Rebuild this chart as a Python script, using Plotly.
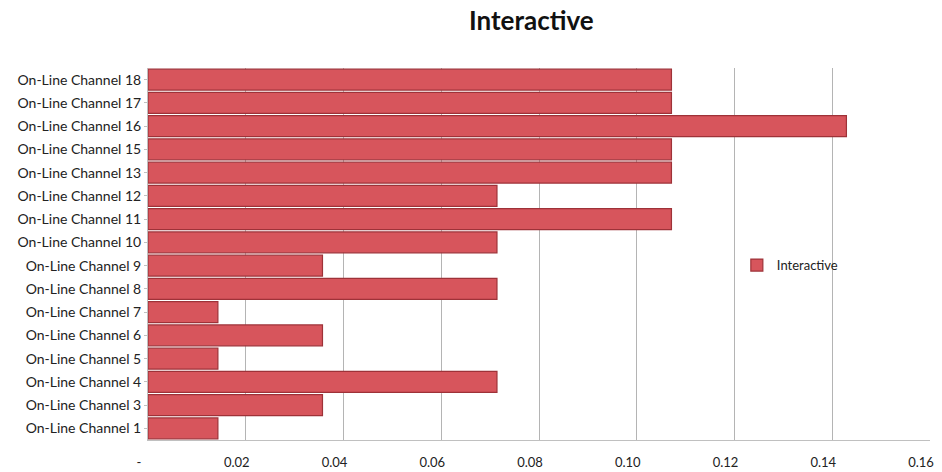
import plotly.graph_objects as go

categories = ["On-Line Channel 1", "On-Line Channel 3", "On-Line Channel 4", "On-Line Channel 5",
              "On-Line Channel 6", "On-Line Channel 7", "On-Line Channel 8", "On-Line Channel 9",
              "On-Line Channel 10", "On-Line Channel 11", "On-Line Channel 12", "On-Line Channel 13",
              "On-Line Channel 15", "On-Line Channel 16", "On-Line Channel 17", "On-Line Channel 18"]
values = [0.0143, 0.0357, 0.0714, 0.0143, 0.0357, 0.0143, 0.0714, 0.0357,
          0.0714, 0.1071, 0.0714, 0.1071, 0.1071, 0.1429, 0.1071, 0.1071]
tick_vals = [0, 0.02, 0.04, 0.06, 0.08, 0.10, 0.12, 0.14, 0.16]
tick_text = ["-", "0.02", "0.04", "0.06", "0.08", "0.10", "0.12", "0.14", "0.16"]

fig = go.Figure()
fig.add_trace(go.Bar(
    y=categories, x=values, orientation="h", name="Interactive",
    marker=dict(color="#d7555c", line=dict(color="#9e3238", width=1.2)),
    showlegend=True,
))

fig.update_layout(
    width=942, height=472,
    margin=dict(l=148, r=12, t=68, b=32),
    paper_bgcolor="white", plot_bgcolor="white",
    font=dict(family="Lato, Liberation Sans, sans-serif", size=13, color="#222"),
    title=dict(text="<b>Interactive</b>", x=0.564, xanchor="center", y=0.955, yanchor="middle",
               font=dict(size=26, color="#111")),
    bargap=0.1,
    showlegend=True,
    legend=dict(x=0.753, y=0.47, xanchor="left", yanchor="middle", bgcolor="rgba(0,0,0,0)",
                font=dict(size=13)),
    xaxis=dict(range=[0, 0.16], tickvals=tick_vals, ticktext=tick_text, showgrid=True,
               gridcolor="#b4b4b4", gridwidth=1, zeroline=False, showline=True,
               linecolor="#c0c0c0", ticks="", tickfont=dict(size=13), ticklabelshift=-9,
               ticklabelstandoff=10, automargin=False),
    yaxis=dict(categoryorder="array", categoryarray=categories, showgrid=False,
               showline=True, linecolor="#c0c0c0", ticks="outside", ticklen=3,
               tickcolor="#c0c0c0", tickfont=dict(size=14), automargin=False),
)

fig.write_html("out.html")
